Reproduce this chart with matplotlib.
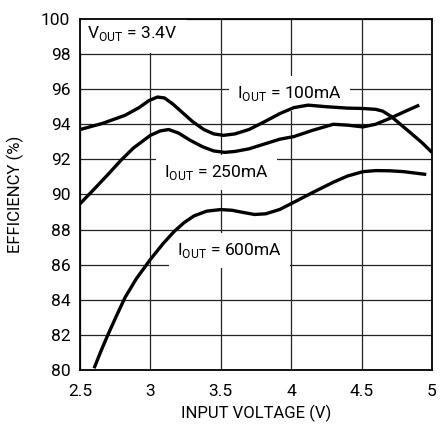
import matplotlib
matplotlib.use("Agg")
import matplotlib.pyplot as plt

# values (input voltage in V, efficiency in %)
v_100ma = [2.50, 2.66, 2.82, 2.92, 2.99, 3.05, 3.10, 3.16, 3.23, 3.30, 3.38, 3.45, 3.52, 3.60, 3.70, 3.80,
           3.92, 4.02, 4.12, 4.25, 4.40, 4.51, 4.60, 4.65, 4.71, 4.77, 4.85, 4.93, 5.00]
eff_100ma = [93.70, 94.05, 94.51, 94.95, 95.35, 95.55, 95.50, 95.15, 94.65, 94.15, 93.70, 93.45, 93.37, 93.45, 93.70, 94.10,
             94.61, 94.95, 95.09, 95.00, 94.92, 94.90, 94.85, 94.75, 94.45, 94.04, 93.50, 92.95, 92.40]

v_250ma = [2.50, 2.60, 2.70, 2.79, 2.88, 3.00, 3.07, 3.13, 3.20, 3.28, 3.37, 3.45, 3.53, 3.60, 3.70, 3.80,
           3.92, 4.02, 4.15, 4.30, 4.40, 4.51, 4.60, 4.70, 4.80, 4.91]
eff_250ma = [89.47, 90.30, 91.15, 91.94, 92.65, 93.37, 93.62, 93.70, 93.50, 93.10, 92.72, 92.48, 92.40, 92.45, 92.60, 92.85,
             93.15, 93.30, 93.65, 94.00, 93.95, 93.85, 94.00, 94.33, 94.70, 95.09]

v_600ma = [2.60, 2.65, 2.70, 2.76, 2.82, 2.90, 3.00, 3.09, 3.17, 3.24, 3.31, 3.40, 3.50, 3.58, 3.65,
           3.74, 3.82, 3.92, 4.02, 4.15, 4.30, 4.40, 4.51, 4.60, 4.70, 4.80, 4.96]
eff_600ma = [80.10, 81.10, 82.04, 83.10, 84.13, 85.20, 86.30, 87.20, 87.90, 88.40, 88.78, 89.05, 89.14, 89.10, 88.99,
             88.86, 88.90, 89.15, 89.56, 90.10, 90.70, 91.05, 91.30, 91.36, 91.35, 91.30, 91.14]

labels = ["I$_{\\mathrm{OUT}}$ = 100mA", "I$_{\\mathrm{OUT}}$ = 250mA", "I$_{\\mathrm{OUT}}$ = 600mA"]
label_xy = [(3.99, 95.75), (3.47, 91.25), (3.56, 86.8)]

x_ticks = [2.5, 3, 3.5, 4, 4.5, 5]
x_tick_labels = ["2.5", "3", "3.5", "4", "4.5", "5"]
y_ticks = list(range(80, 101, 2))

plt.rcParams["font.family"] = ["Roboto", "DejaVu Sans"]
plt.rcParams["mathtext.fontset"] = "custom"
plt.rcParams["mathtext.rm"] = "Roboto"

fig = plt.figure(figsize=(4.41, 4.25), dpi=100)
ax = fig.add_axes([0.1814, 0.1294, 0.798, 0.826])

for xs, ys in [(v_100ma, eff_100ma), (v_250ma, eff_250ma), (v_600ma, eff_600ma)]:
    ax.plot(xs, ys, color="black", lw=2.4, solid_capstyle="butt", solid_joinstyle="round", zorder=3)

box = dict(facecolor="white", edgecolor="none", pad=6)
for text, (x, y) in zip(labels, label_xy):
    ax.text(x, y, text, fontsize=12.5, ha="center", va="center", bbox=box, zorder=2)
ax.text(2.55, 99.15, "V$_{\\mathrm{OUT}}$ = 3.4V", fontsize=12.5, ha="left", va="center",
        bbox=dict(facecolor="white", edgecolor="none", pad=7), zorder=2)

ax.set_xlim(2.5, 5)
ax.set_ylim(80, 100)
ax.set_xticks(x_ticks)
ax.set_xticklabels(x_tick_labels)
ax.set_yticks(y_ticks)
ax.tick_params(length=0, labelsize=12.5)
ax.tick_params(axis="x", pad=10)
ax.tick_params(axis="y", pad=7)
ax.grid(True, color="#222222", lw=0.9)
ax.set_axisbelow(True)
for s in ax.spines.values():
    s.set_linewidth(1.3)

ax.set_xlabel("INPUT VOLTAGE (V)", fontsize=12, labelpad=4)
ax.set_ylabel("EFFICIENCY (%)", fontsize=12, labelpad=12)

fig.savefig("out.png", dpi=100)
